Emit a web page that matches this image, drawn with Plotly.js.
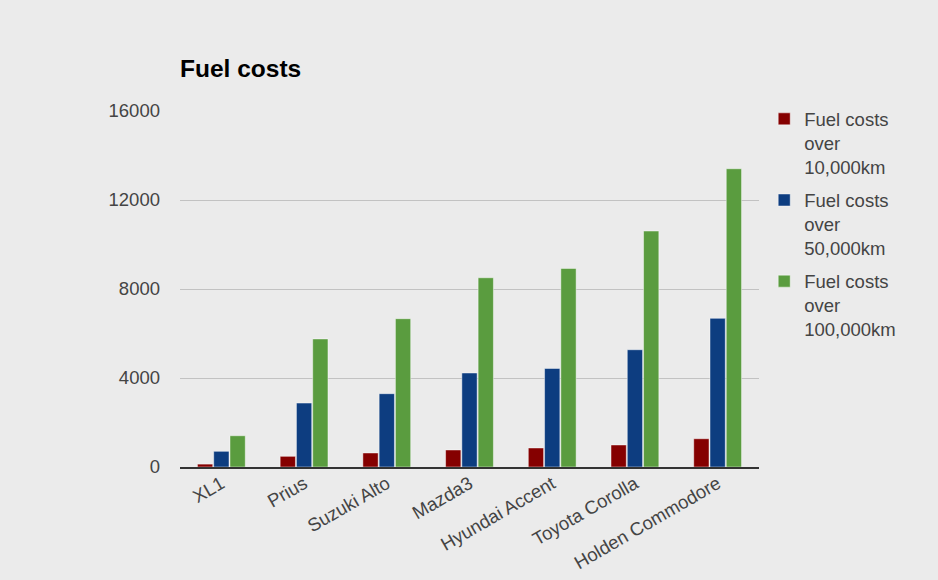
<!DOCTYPE html>
<html>
<head>
<meta charset="utf-8">
<script src="https://cdn.plot.ly/plotly-3.0.1.min.js"></script>
<style>
  html, body { margin: 0; padding: 0; background: #ebebeb; }
  #chart { width: 938px; height: 580px; }
</style>
</head>
<body>
<div id="chart"></div>
<script>
const cars = ['XL1', 'Prius', 'Suzuki Alto', 'Mazda3', 'Hyundai Accent', 'Toyota Corolla', 'Holden Commodore']
const cost10k = [130, 480, 630, 765, 855, 990, 1270]
const cost50k = [705, 2875, 3295, 4225, 4430, 5270, 6680]
const cost100k = [1405, 5755, 6665, 8505, 8925, 10605, 13405]

const seriesNames = [
  'Fuel costs<br>over<br>10,000km',
  'Fuel costs<br>over<br>50,000km',
  'Fuel costs<br>over<br>100,000km',
]
const colors = ['#850000', '#0d3d80', '#5a9c3f']

const values = [cost10k, cost50k, cost100k]
const data = values.map((v, i) => ({
  x: cars,
  y: v,
  name: seriesNames[i],
  type: 'bar',
  legendgroup: 'g' + i,
  marker: {
    color: colors[i],
    line: { color: 'rgba(255,255,255,0.45)', width: 1 },
  },
}))

const font = { family: 'Liberation Sans, Arial, sans-serif', size: 18.5, color: '#444' }

const layout = {
  width: 938,
  height: 580,
  margin: { l: 180, r: 179, t: 111, b: 113 },
  paper_bgcolor: '#ebebeb',
  plot_bgcolor: '#ebebeb',
  font,
  barmode: 'group',
  bargap: 0.41,
  bargroupgap: 0.06,
  title: {
    text: '<b>Fuel costs</b>',
    font: { family: 'Liberation Sans, Arial, sans-serif', size: 24.5, color: '#000' },
    x: 180 / 938,
    xanchor: 'left',
    y: 1 - 68 / 580,
    yanchor: 'middle',
  },
  xaxis: {
    tickangle: -30,
    tickfont: font,
    showgrid: false,
    showline: true,
    linecolor: '#333',
    linewidth: 2,
    ticks: '',
    ticklabelstandoff: -3,
    fixedrange: true,
  },
  yaxis: {
    range: [0, 16000],
    tickvals: [0, 4000, 8000, 12000, 16000],
    tickformat: 'd',
    tickfont: font,
    showgrid: true,
    gridcolor: '#c2c2c2',
    gridwidth: 1,
    zeroline: false,
    ticks: '',
    ticklabelstandoff: 19,
    fixedrange: true,
  },
  legend: {
    x: 1.009,
    xanchor: 'left',
    y: 1.03,
    yanchor: 'top',
    valign: 'top',
    font,
    traceorder: 'grouped',
    tracegroupgap: 6,
    bgcolor: 'rgba(0,0,0,0)',
  },
  showlegend: true,
}

Plotly.newPlot('chart', data, layout, { displayModeBar: false, responsive: false })
</script>
</body>
</html>
